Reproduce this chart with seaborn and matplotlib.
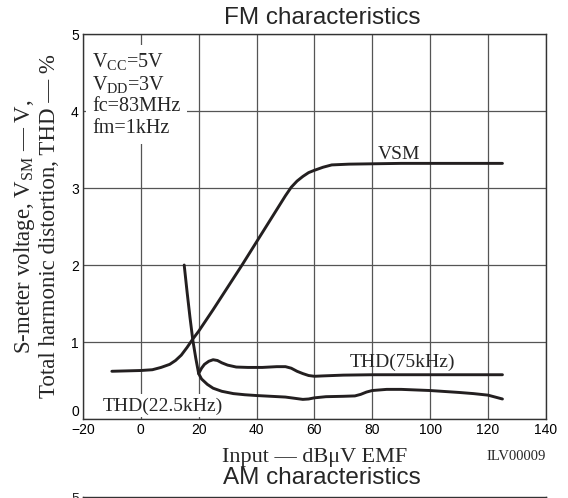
import matplotlib
matplotlib.use("Agg")
import matplotlib.pyplot as plt
import seaborn as sns

# Values
vsm_x = [-10, 0, 4, 7, 10, 12, 14, 16, 18, 20, 25, 30, 35, 40, 45, 50, 52, 54, 56, 58, 60, 63, 66, 72, 90, 125]
vsm_y = [0.62, 0.63, 0.64, 0.67, 0.71, 0.76, 0.83, 0.93, 1.04, 1.14, 1.42, 1.71, 2.0, 2.30, 2.60, 2.90, 3.01, 3.09, 3.15, 3.20, 3.23, 3.27, 3.30, 3.31, 3.32, 3.32]

thd22_x = [15, 16, 17, 18, 19, 20, 21, 23, 25, 28, 32, 36, 40, 45, 50, 53, 56, 58, 60, 64, 70, 74, 76, 78, 80, 85, 90, 100, 110, 115, 120, 125]
thd22_y = [2.0, 1.65, 1.32, 1.02, 0.79, 0.59, 0.52, 0.45, 0.40, 0.36, 0.33, 0.315, 0.305, 0.295, 0.285, 0.27, 0.255, 0.26, 0.275, 0.29, 0.295, 0.30, 0.32, 0.35, 0.37, 0.385, 0.385, 0.37, 0.345, 0.33, 0.31, 0.26]

thd75_x = [20, 21, 22, 23.5, 25, 26.5, 28, 30, 33, 37, 42, 47, 50, 52, 54, 56, 58, 60, 63, 70, 80, 100, 125]
thd75_y = [0.59, 0.66, 0.71, 0.75, 0.77, 0.76, 0.73, 0.70, 0.675, 0.67, 0.67, 0.68, 0.68, 0.66, 0.62, 0.59, 0.565, 0.555, 0.56, 0.57, 0.575, 0.575, 0.575]

x_ticks = [-20, 0, 20, 40, 60, 80, 100, 120, 140]
y_ticks = [0, 1, 2, 3, 4, 5]

conditions = "V$_{\\mathrm{CC}}$=5V\nV$_{\\mathrm{DD}}$=3V\nfc=83MHz\nfm=1kHz"

sns.set_style("white")
plt.rcParams["font.family"] = ["Liberation Sans", "DejaVu Sans"]
plt.rcParams["mathtext.fontset"] = "custom"
plt.rcParams["mathtext.rm"] = "Liberation Serif"
plt.rcParams["mathtext.it"] = "Liberation Serif:italic"

serif = ["Liberation Serif", "DejaVu Serif"]
ink = "#231f20"
grid_c = "#555555"

fig = plt.figure(figsize=(5.68, 4.98), dpi=100)
ax = fig.add_axes([0.146, 0.1586, 0.815, 0.7731])

sns.lineplot(x=vsm_x, y=vsm_y, ax=ax, color=ink, lw=2.1, sort=False)
sns.lineplot(x=thd22_x, y=thd22_y, ax=ax, color=ink, lw=2.1, sort=False)
sns.lineplot(x=thd75_x, y=thd75_y, ax=ax, color=ink, lw=2.1, sort=False)

ax.set_xlim(-20, 140)
ax.set_ylim(0, 5)
ax.set_xticks(x_ticks)
ax.set_yticks(y_ticks)
ax.grid(True, color=grid_c, lw=0.9)
ax.set_axisbelow(True)
ax.tick_params(length=0, pad=3, labelsize=10, colors="black")
# the "0" sits just above the corner, clear of "-20"
ax.yaxis.get_major_ticks()[0].label1.set_verticalalignment("bottom")
for s in ax.spines.values():
    s.set_color("#333333")
    s.set_linewidth(1.0)

ax.set_xlabel("Input — dBμV EMF", family=serif, fontsize=16, labelpad=8)
ax.set_ylabel("S-meter voltage, V$_{\\mathrm{SM}}$ — V,\nTotal harmonic distortion, THD — %",
              family=serif, fontsize=16.5, labelpad=8, linespacing=1.12)

# curve labels
ax.text(89.3, 3.44, "VSM", family=serif, fontsize=14, ha="center", va="center")
ax.text(90.4, 0.74, "THD(75kHz)", family=serif, fontsize=14, ha="center", va="center")
ax.text(7.5, 0.17, "THD(22.5kHz)", family=serif, fontsize=14, ha="center", va="center",
        bbox=dict(boxstyle="square,pad=0.15", fc="white", ec="none"))
ax.text(-16.8, 4.78, conditions, family=serif, fontsize=14.5, ha="left", va="top",
        linespacing=1.15,
        bbox=dict(boxstyle="square,pad=0.3", fc="white", ec="none"))

fig.text(546 / 568, 1 - 456 / 498, "ILV00009", family=serif, fontsize=10.5,
         ha="right", va="center")

fig.text(322 / 568, 1 - 18 / 498, "FM characteristics", fontsize=17.5,
         ha="center", va="center")
fig.text(322 / 568, 1 - 478 / 498, "AM characteristics", fontsize=17.5,
         ha="center", va="center")

# top of the next (AM) graph, cut off by the page edge
ax2 = fig.add_axes([0.146, -0.5, 0.815, 0.502])
ax2.set_xlim(-20, 140)
ax2.set_ylim(0, 5)
ax2.set_xticks([])
ax2.set_yticks([5])
ax2.tick_params(length=0, pad=3, labelsize=10)
for s in ax2.spines.values():
    s.set_color("#333333")
    s.set_linewidth(1.0)

fig.savefig("out.png", dpi=100)
